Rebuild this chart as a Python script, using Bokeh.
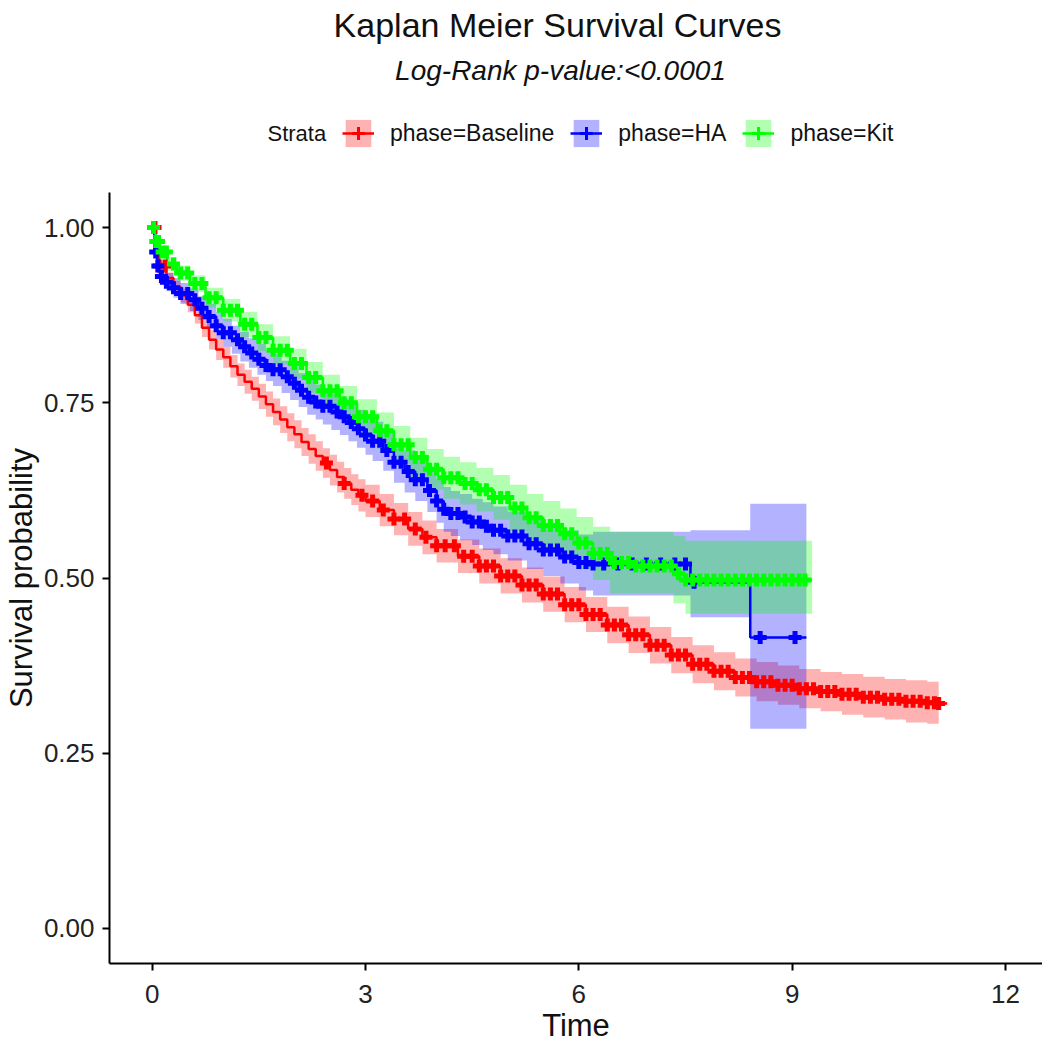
import numpy as np
from bokeh.plotting import figure
from bokeh.layouts import column
from bokeh.models import Label, Legend, LegendItem, FixedTicker, NumeralTickFormatter
from bokeh.embed import file_html
from bokeh.resources import INLINE

FONT = "Liberation Sans"

title_text = "Kaplan Meier Survival Curves"
subtitle_text = "Log-Rank p-value:<0.0001"
legend_title = "Strata"
strata = ["phase=Baseline", "phase=HA", "phase=Kit"]
colors = ["#FF0000", "#0000FF", "#00FF00"]
x_ticks = [0, 3, 6, 9, 12]
y_ticks = [0.0, 0.25, 0.5, 0.75, 1.0]

# ---- Baseline (red) ----
base_t = [0, .05, .1, .2, .3, .4, .5, .6, .7, .8, .9, 1.0, 1.1, 1.2, 1.3, 1.4, 1.5, 1.6, 1.7, 1.8,
          1.9, 2.0, 2.1, 2.2, 2.3, 2.4, 2.5, 2.6, 2.7, 2.8, 2.9, 3.0, 3.2, 3.4, 3.6, 3.8, 4.0, 4.3,
          4.6, 4.9, 5.2, 5.5, 5.8, 6.1, 6.4, 6.7, 7.0, 7.3, 7.6, 7.9, 8.2, 8.5, 8.8, 9.1, 9.4, 9.7,
          10.0, 10.3, 10.6, 10.9, 11.06, 11.18]
base_s = [1.0, .965, .945, .928, .915, .903, .89, .875, .857, .84, .826, .815, .802, .79, .78, .77,
          .759, .748, .737, .726, .715, .705, .694, .684, .674, .664, .654, .644, .635, .626, .618,
          .61, .597, .584, .57, .558, .546, .531, .517, .503, .49, .477, .462, .448, .433, .419, .404,
          .39, .377, .367, .358, .352, .347, .342, .338, .334, .33, .327, .324, .322, .321, .321]
base_ci = [0, .004, .006, .008, .009, .01, .011, .012, .013, .014, .015, .015, .016, .016, .017, .017,
           .018, .018, .019, .019, .02, .02, .02, .021, .021, .021, .022, .022, .022, .022, .023, .023,
           .023, .023, .024, .024, .024, .024, .025, .025, .025, .025, .025, .025, .026, .026, .026,
           .026, .027, .027, .027, .028, .028, .028, .028, .029, .029, .029, .03, .03, .03, .03]
base_cens = [0.04, 0.1, 0.18, 2.45, 2.7, 2.95, 3.1, 3.25, 3.4, 3.55, 3.7, 3.85, 4.0, 4.12, 4.25, 4.38,
             4.5, 4.6, 4.7, 4.8, 4.9, 5.0, 5.1, 5.2, 5.3, 5.4, 5.5, 5.6, 5.7, 5.8, 5.9, 6.0, 6.1, 6.2,
             6.3, 6.4, 6.5, 6.6, 6.7, 6.8, 6.9, 7.0, 7.1, 7.2, 7.3, 7.4, 7.5, 7.6, 7.7, 7.8, 7.9, 8.0,
             8.1, 8.2, 8.3, 8.4, 8.5, 8.6, 8.7, 8.8, 8.9, 9.0, 9.1, 9.2, 9.3, 9.4, 9.5, 9.6, 9.7, 9.8,
             9.9, 10.0, 10.1, 10.2, 10.3, 10.4, 10.5, 10.6, 10.7, 10.8, 10.9, 11.0, 11.06]

# ---- HA (blue) ----
ha_t = [0, .03, .07, .11, .2, .3, .4, .53, .65, .77, .9, 1.0, 1.12, 1.24, 1.36, 1.48, 1.6, 1.7, 1.82,
        1.94, 2.06, 2.18, 2.3, 2.4, 2.52, 2.64, 2.76, 2.88, 3.0, 3.1, 3.25, 3.4, 3.55, 3.7, 3.87, 4.0,
        4.1, 4.2, 4.33, 4.5, 4.65, 4.8, 5.0, 5.27, 5.5, 5.74, 6.0, 6.2, 7.57, 8.41, 9.2]
ha_s = [1.0, .965, .945, .93, .922, .914, .906, .897, .885, .873, .86, .85, .84, .83, .821, .812, .803,
        .797, .787, .778, .768, .758, .751, .745, .737, .73, .722, .713, .704, .695, .682, .665, .652,
        .64, .625, .61, .598, .592, .587, .58, .574, .568, .56, .549, .54, .53, .522, .52, .494, .415, .415]
ha_ci_lo = [0, .006, .009, .011, .013, .014, .015, .016, .017, .018, .019, .02, .02, .021, .021, .022,
            .022, .023, .023, .024, .024, .025, .025, .026, .026, .026, .027, .027, .028, .028, .029,
            .029, .03, .03, .031, .031, .032, .032, .033, .033, .034, .034, .035, .036, .037, .038, .04,
            .045, .05, .13, .13]
ha_ci_hi = [0, .006, .009, .011, .013, .014, .015, .016, .017, .018, .019, .02, .02, .021, .021, .022,
            .022, .023, .023, .024, .024, .025, .025, .026, .026, .026, .027, .027, .028, .028, .029,
            .029, .03, .03, .031, .031, .032, .032, .033, .033, .034, .034, .035, .036, .037, .038, .04,
            .046, .074, .191, .191]
ha_cens = [0.02, 0.05, 0.08, 0.13, 0.2, 0.3, 0.4, 0.5, 0.6, 0.7, 0.8, 0.9, 1.0, 1.1, 1.2, 1.3, 1.4,
           1.5, 1.6, 1.7, 1.8, 1.9, 2.0, 2.1, 2.2, 2.3, 2.4, 2.5, 2.6, 2.7, 2.8, 2.9, 3.0, 3.1, 3.2,
           3.3, 3.4, 3.5, 3.6, 3.7, 3.8, 3.9, 4.0, 4.1, 4.2, 4.3, 4.4, 4.5, 4.6, 4.7, 4.8, 4.9, 5.0,
           5.1, 5.2, 5.3, 5.4, 5.5, 5.6, 5.7, 5.8, 5.9, 6.0, 6.1, 6.2, 6.35, 6.55, 6.75, 6.95, 7.15,
           7.35, 7.5, 7.62, 8.55, 9.04]

# ---- Kit (green) ----
kit_t = [0, .05, .1, .21, .35, .53, .75, 1.0, 1.24, 1.48, 1.7, 1.94, 2.17, 2.4, 2.64, 2.88, 3.16, 3.4,
         3.63, 3.87, 4.1, 4.33, 4.56, 4.8, 5.03, 5.27, 5.5, 5.74, 5.97, 6.2, 6.44, 6.8, 7.33, 7.5, 9.28]
kit_s = [1.0, .98, .965, .948, .935, .92, .9, .882, .862, .843, .825, .806, .786, .767, .75, .73, .71,
         .69, .672, .655, .643, .635, .626, .615, .60, .586, .575, .563, .55, .535, .522, .517, .506,
         .497, .497]
kit_ci_lo = [0, .006, .008, .01, .011, .012, .014, .016, .018, .019, .02, .021, .022, .023, .024, .025,
             .026, .027, .028, .029, .03, .03, .031, .032, .033, .034, .035, .036, .037, .038, .044,
             .039, .042, .048, .048]
kit_ci_hi = [0, .006, .008, .01, .011, .012, .014, .016, .018, .019, .02, .021, .022, .023, .024, .025,
             .026, .027, .028, .029, .03, .03, .031, .032, .033, .034, .035, .036, .037, .038, .044,
             .049, .054, .056, .056]
kit_cens = [0.02, 0.05, 0.09, 0.14, 0.2, 0.3, 0.4, 0.5, 0.6, 0.7, 0.8, 0.9, 1.0, 1.1, 1.2, 1.3, 1.4,
            1.5, 1.6, 1.7, 1.8, 1.9, 2.0, 2.1, 2.2, 2.3, 2.4, 2.5, 2.6, 2.7, 2.8, 2.9, 3.0, 3.1, 3.2,
            3.3, 3.4, 3.5, 3.6, 3.7, 3.8, 3.9, 4.0, 4.1, 4.2, 4.3, 4.4, 4.5, 4.6, 4.7, 4.8, 4.9, 5.0,
            5.1, 5.2, 5.3, 5.4, 5.5, 5.6, 5.7, 5.8, 5.9, 6.0, 6.1, 6.2, 6.3, 6.4, 6.5, 6.6, 6.7, 6.8,
            6.9, 7.0, 7.1, 7.2, 7.3, 7.4, 7.5, 7.6, 7.7, 7.8, 7.9, 8.0, 8.1, 8.2, 8.3, 8.4, 8.5, 8.6,
            8.7, 8.8, 8.9, 9.0, 9.1, 9.18]


def step_at(t, s, c):
    t = np.asarray(t, dtype=float)
    s = np.asarray(s, dtype=float)
    idx = np.searchsorted(t, np.asarray(c, dtype=float), side="right") - 1
    return s[np.clip(idx, 0, len(s) - 1)]


groups = [
    (base_t, base_s, np.array(base_s) - np.array(base_ci), np.array(base_s) + np.array(base_ci), base_cens, 1),
    (ha_t, ha_s, np.array(ha_s) - np.array(ha_ci_lo), np.array(ha_s) + np.array(ha_ci_hi), ha_cens, 0),
    (kit_t, kit_s, np.array(kit_s) - np.array(kit_ci_lo), np.array(kit_s) + np.array(kit_ci_hi), kit_cens, 0),
]

BAND_ALPHA = 0.3
LINE_W = 2.5
MARK_SIZE = 13
MARK_W = 5


def draw_groups(fig, visible=True, mark_w=MARK_W):
    bands, lines, marks = [], [], []
    for (t, s, lo, hi, cens, drop_last), c in zip(groups, colors):
        n = len(t) - 1 if drop_last else len(t)
        bands.append(fig.varea_step(x=t[:n], y1=list(lo[:n]), y2=list(hi[:n]), step_mode="after",
                                    fill_color=c, fill_alpha=BAND_ALPHA, visible=visible))
    for (t, s, lo, hi, cens, drop_last), c in zip(groups, colors):
        lines.append(fig.step(x=t, y=s, mode="after", line_color=c, line_width=LINE_W, visible=visible))
    for (t, s, lo, hi, cens, drop_last), c in zip(groups, colors):
        marks.append(fig.scatter(x=cens, y=list(step_at(t, s, cens)), marker="cross", size=MARK_SIZE,
                                 line_color=c, line_width=mark_w, visible=visible))
    return bands, lines, marks


# ---------------- header (title, subtitle, legend) ----------------
H_HEAD = 192
W = 1042
FRAME_L = 109
head = figure(width=W, height=H_HEAD, x_range=(FRAME_L, W), y_range=(H_HEAD, 0),
              x_axis_type=None, y_axis_type=None, output_backend="svg", toolbar_location=None,
              min_border=0, min_border_left=0, min_border_right=0, min_border_top=0, min_border_bottom=0)
head.outline_line_color = None
head.xgrid.visible = False
head.ygrid.visible = False

hb, hl, hm = draw_groups(head, visible=False, mark_w=3)
legend = Legend(items=[LegendItem(label=lab, renderers=[hb[i], hl[i], hm[i]])
                       for i, lab in enumerate(strata)],
                orientation="horizontal", location=(342 - FRAME_L, 42),
                glyph_width=32, glyph_height=34, label_standoff=16, spacing=16,
                padding=0, margin=0, border_line_color=None, background_fill_alpha=0,
                label_text_font=FONT, label_text_font_size="23px", label_text_color="#111111",
                click_policy="none")
head.add_layout(legend)

head.add_layout(Label(x=557, y=24, text=title_text, text_font=FONT, text_font_size="34px",
                      text_align="center", text_baseline="middle", text_color="#111111"))
head.add_layout(Label(x=560, y=70, text=subtitle_text, text_font=FONT, text_font_size="28px",
                      text_font_style="italic", text_align="center", text_baseline="middle",
                      text_color="#111111"))
head.add_layout(Label(x=267, y=133, text=legend_title, text_font=FONT, text_font_size="22px",
                      text_align="left", text_baseline="middle", text_color="#111111"))

# ---------------- main plot ----------------
p = figure(width=W, height=853, frame_width=933, frame_height=771,
           x_range=(-0.6, 12.52), y_range=(-0.05, 1.05),
           output_backend="svg", toolbar_location=None,
           min_border_left=FRAME_L, min_border_right=0, min_border_top=0, min_border_bottom=82)
p.xgrid.visible = False
p.ygrid.visible = False
p.outline_line_color = None

for ax in (p.xaxis[0], p.yaxis[0]):
    ax.axis_line_width = 2
    ax.axis_line_color = "black"
    ax.major_tick_line_width = 2
    ax.major_tick_line_color = "black"
    ax.major_tick_out = 7
    ax.major_tick_in = 0
    ax.minor_tick_line_color = None
    ax.major_label_text_font = FONT
    ax.major_label_text_font_size = "26px"
    ax.major_label_text_color = "#222222"
    ax.axis_label_text_font = FONT
    ax.axis_label_text_font_size = "31px"
    ax.axis_label_text_font_style = "normal"
    ax.axis_label_text_color = "#111111"
p.xaxis.ticker = FixedTicker(ticks=x_ticks)
p.yaxis.ticker = FixedTicker(ticks=y_ticks)
p.yaxis.formatter = NumeralTickFormatter(format="0.00")
p.xaxis.major_label_standoff = 14
p.yaxis.major_label_standoff = 8
p.xaxis.axis_label = "Time"
p.yaxis.axis_label = "Survival probability"
p.xaxis.axis_label_standoff = 2
p.yaxis.axis_label_standoff = 2

draw_groups(p)

layout = column(head, p, spacing=0)
open("out.html", "w").write(file_html(layout, INLINE))
